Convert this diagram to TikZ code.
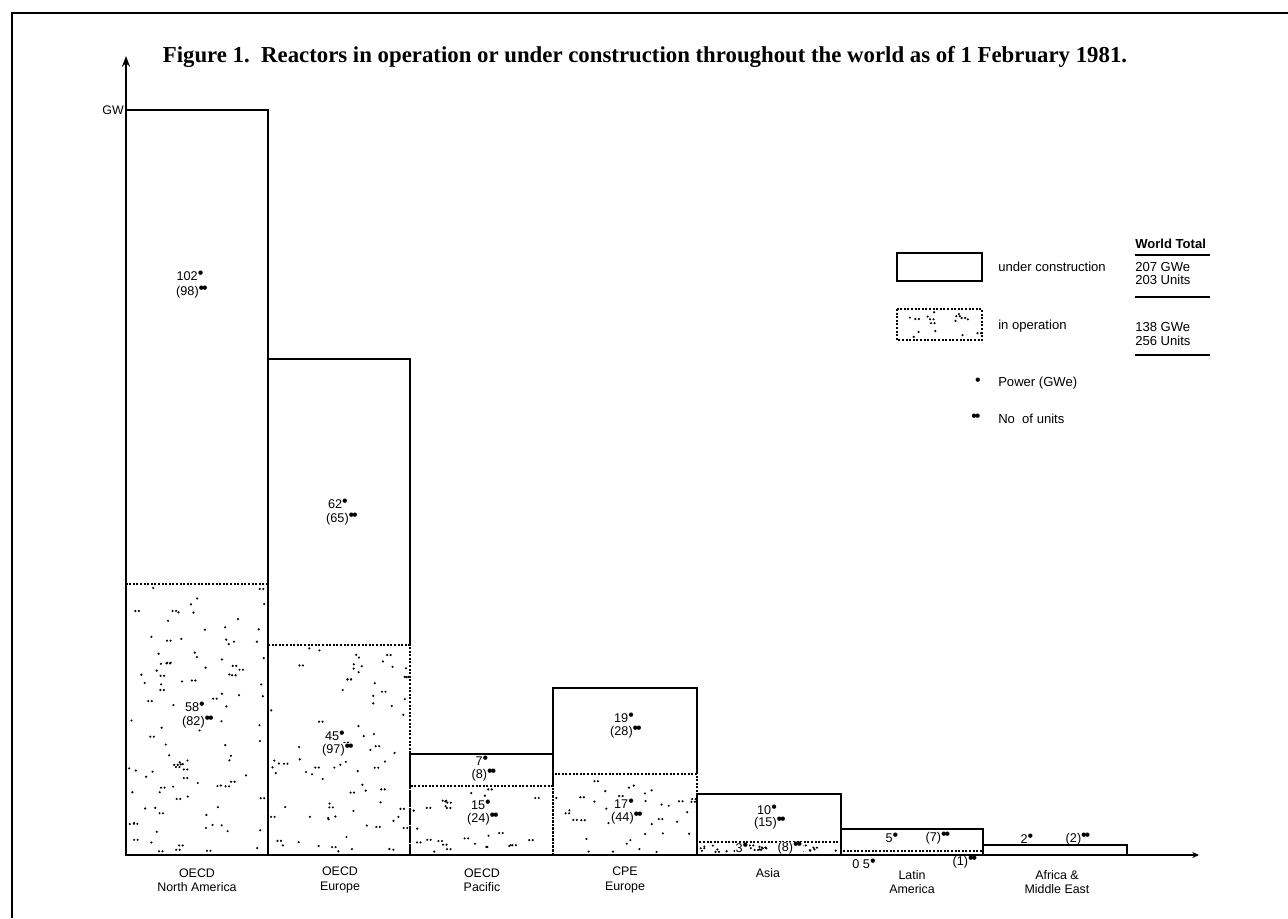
\documentclass[tikz,border=0pt]{standalone}
\usepackage{fontspec}
\setmainfont{Liberation Sans}
\newfontfamily\titlefont{Liberation Serif}
\usetikzlibrary{arrows.meta}
\newcommand\onedot{\raisebox{0.3ex}{\fontsize{12}{12}\selectfont\textbullet}}
\newcommand\twodot{\raisebox{0.3ex}{\fontsize{12}{12}\selectfont\textbullet\kern-1.6pt\textbullet}}
\newcommand\mystipple[5]{%
  \foreach \k in {1,...,#5}{%
    \pgfmathsetmacro\sx{#1+3+rnd*(#2-#1-6)}%
    \pgfmathsetmacro\sy{#3+3+rnd*(#4-#3-6)}%
    \pgfmathsetmacro\pr{rnd}%
    \ifdim\pr pt<0.3pt
      \fill (\sx,\sy) circle[radius=0.9pt] (\sx+3.5,\sy) circle[radius=0.9pt];
    \else
      \fill (\sx,\sy) circle[radius=0.9pt];
    \fi
  }}
\begin{document}
\begin{tikzpicture}[x=0.75pt,y=-0.75pt,
  lbl/.style={font=\fontsize{9.3}{10.6}\selectfont, inner sep=0pt, align=center},
  val/.style={font=\fontsize{9.5}{10}\selectfont, inner sep=0.6pt},
  valw/.style={val, fill=white},
  leg/.style={font=\fontsize{9.8}{11}\selectfont, inner sep=0pt, anchor=west},
  ucbox/.style={draw=black, line width=1.3pt},
  opbox/.style={draw=black, line width=2pt, dash pattern=on 1.5pt off 1.2pt},
  axisline/.style={line width=1.8pt},
  frameline/.style={line width=1.3pt},
  rule/.style={line width=0.8pt}]
\useasboundingbox (0,0) rectangle (1288,918);
\pgfmathsetseed{1981}

% frame
\draw[frameline] (12,918) -- (12,13) -- (1288,13);

% title
\node[font=\titlefont\bfseries\fontsize{17.1}{19}\selectfont, inner sep=0pt] (title) at (645,57)
  {Figure 1.\ \ Reactors in operation or under construction throughout the world as of 1 February 1981.};

% operating parts (stippled)
\mystipple{126}{268}{584}{855}{110}
\mystipple{268}{410}{645}{855}{85}
\mystipple{410}{553}{786}{855}{30}
\mystipple{553}{697}{774}{855}{36}
\mystipple{697}{841}{842}{855}{40}
\draw[opbox] (126,584) rectangle (268,855);
\draw[opbox] (268,645) rectangle (410,855);
\draw[opbox] (410,786) rectangle (553,855);
\draw[opbox] (553,774) rectangle (697,855);
\draw[opbox] (697,842) rectangle (841,855);
\draw[opbox] (841,851) rectangle (983,855);

% under construction parts
\draw[ucbox] (126,584) -- (126,110) -- (268,110) -- (268,584);
\draw[ucbox] (268,645) -- (268,359) -- (410,359) -- (410,645);
\draw[ucbox] (410,786) -- (410,754) -- (553,754) -- (553,786);
\draw[ucbox] (553,774) -- (553,688) -- (697,688) -- (697,774);
\draw[ucbox] (697,842) -- (697,794) -- (841,794) -- (841,842);
\draw[ucbox] (841,851) -- (841,829) -- (983,829) -- (983,851);
\draw[ucbox] (983,855) -- (983,845) -- (1127,845) -- (1127,855);

% axes
\coordinate (origin) at (126,855);
\coordinate (ytip) at (126,56);
\coordinate (xtip) at (1199,855);
\draw[axisline,-{Stealth[length=8pt,width=6pt]}] (origin) -- (ytip);
\draw[axisline,-{Stealth[length=5pt,width=4.5pt]}] (origin) -- (xtip);
\node[lbl, anchor=east] (gw) at (124,110) {GW};

% values
\node[val] (na1) at (190,276) {102\onedot};
\node[val] (na2) at (192,292) {(98)\twodot};
\node[valw] (na3) at (195,707) {58\onedot};
\node[valw] (na4) at (198,722) {(82)\twodot};
\node[val] (eu1) at (338,504) {62\onedot};
\node[val] (eu2) at (342,519) {(65)\twodot};
\node[valw] (eu3) at (335,736) {45\onedot};
\node[valw] (eu4) at (338,750) {(97)\twodot};
\node[val] (pa1) at (482,761) {7\onedot};
\node[val] (pa2) at (484,775) {(8)\twodot};
\node[valw] (pa3) at (481,805) {15\onedot};
\node[valw] (pa4) at (483,819) {(24)\twodot};
\node[val] (cp1) at (624,718) {19\onedot};
\node[val] (cp2) at (626,732) {(28)\twodot};
\node[valw] (cp3) at (624,804) {17\onedot};
\node[valw] (cp4) at (627,818) {(44)\twodot};
\node[val] (as1) at (767,810) {10\onedot};
\node[val] (as2) at (770,823) {(15)\twodot};
\node[valw, inner sep=0.3pt] (as3) at (742,848) {3\onedot};
\node[valw, inner sep=0.3pt] (as4) at (790,848) {(8)\twodot};
\node[val] (la1) at (892,838) {5\onedot};
\node[val] (la2) at (938,838) {(7)\twodot};
\node[val] (la3) at (864,864) {0 5\onedot};
\node[val] (la4) at (965,862) {(1)\twodot};
\node[val] (af1) at (1027,839) {2\onedot};
\node[val] (af2) at (1078,839) {(2)\twodot};

% category labels
\node[lbl] (c1) at (197,880) {OECD\\North America};
\node[lbl] (c2) at (340,880) {OECD\\Europe};
\node[lbl] (c3) at (482,880) {OECD\\Pacific};
\node[lbl] (c4) at (625,880) {CPE\\Europe};
\node[lbl, anchor=north] (c5) at (768,868) {Asia};
\node[lbl] (c6) at (912,882) {Latin\\America};
\node[lbl] (c7) at (1057,882) {Africa \&\\Middle East};

% legend
\draw[ucbox] (897,253) rectangle (982,281);
\node[leg] (luc) at (998,267) {under construction};
\mystipple{897}{982}{309}{340}{16}
\draw[opbox] (897,309) rectangle (982,340);
\node[leg] (lop) at (998,326) {in operation};
\node[leg, font=\bfseries\fontsize{9.8}{11}\selectfont] (wt) at (1135,244) {World Total};
\draw[rule] (1135,255) -- (1210,255);
\node[leg] (t1) at (1135,267) {207 GWe};
\node[leg] (t2) at (1135,280) {203 Units};
\draw[rule] (1135,297) -- (1210,297);
\node[leg] (t3) at (1135,327) {138 GWe};
\node[leg] (t4) at (1135,341) {256 Units};
\draw[rule] (1135,355) -- (1210,355);
\node[inner sep=0pt, font=\fontsize{12}{12}\selectfont] (d1) at (978,382) {\textbullet};
\node[leg] (lp) at (998,383) {Power (GWe)};
\node[inner sep=0pt, font=\fontsize{12}{12}\selectfont] (d2) at (976,418) {\textbullet\kern-1.6pt\textbullet};
\node[leg] (ln) at (998,419) {No\ \ of units};
\end{tikzpicture}
\end{document}
